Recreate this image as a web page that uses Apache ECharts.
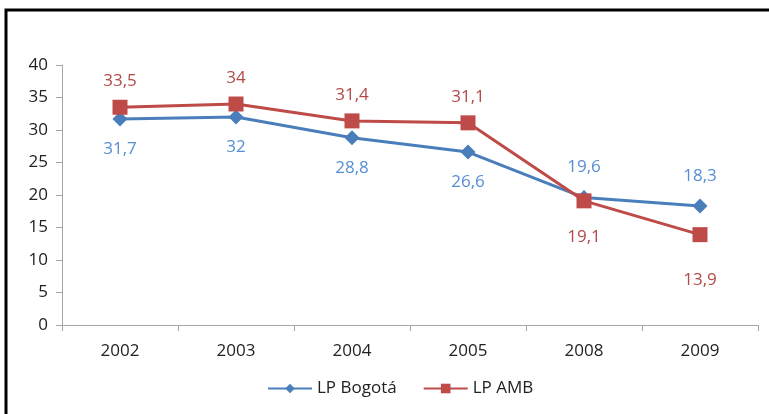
<!DOCTYPE html>
<html>
<head>
<meta charset="utf-8">
<script src="https://cdn.jsdelivr.net/npm/echarts@6/dist/echarts.min.js"></script>
<style>
  html, body { margin: 0; padding: 0; background: #fff; }
  #main { width: 769px; height: 414px; }
</style>
</head>
<body>
<div id="main"></div>
<script>
  // datos
  var years = ['2002', '2003', '2004', '2005', '2008', '2009'];
  var bogota = [31.7, 32, 28.8, 26.6, 19.6, 18.3];
  var amb = [33.5, 34, 31.4, 31.1, 19.1, 13.9];

  // posicion de las etiquetas
  var bogotaPos = ['bottom', 'bottom', 'bottom', 'bottom', 'top', 'top'];
  var ambPos = ['top', 'top', 'top', 'top', 'bottom', 'bottom'];
  var ambDist = [10, 10, 10, 10, 20, 30];

  function fmt(p) {
    return String(p.value).replace('.', ',');
  }

  var myChart = echarts.init(document.getElementById('main'));

  var font = '"Open Sans", sans-serif';

  var option = {
    animation: false,
    textStyle: { fontFamily: font },
    graphic: [{
      type: 'rect',
      shape: { x: 6, y: 10, width: 800, height: 500 },
      style: { fill: 'none', stroke: '#000', lineWidth: 3 },
      silent: true
    }],
    grid: { left: 62, right: 11, top: 65, bottom: 89 },
    legend: {
      bottom: 12,
      left: 262,
      itemWidth: 44,
      itemHeight: 12,
      itemGap: 26,
      textStyle: { fontSize: 17, color: '#222', fontFamily: font },
      data: ['LP Bogotá', 'LP AMB']
    },
    xAxis: {
      type: 'category',
      data: years,
      boundaryGap: true,
      axisLine: { lineStyle: { color: '#a6a6a6' } },
      axisTick: { show: true, length: 6, lineStyle: { color: '#a6a6a6' } },
      axisLabel: { fontSize: 17, color: '#222', margin: 18 }
    },
    yAxis: {
      type: 'value',
      min: 0,
      max: 40,
      interval: 5,
      splitLine: { show: false },
      axisLine: { show: true, lineStyle: { color: '#a6a6a6' } },
      axisTick: { show: true, length: 6, lineStyle: { color: '#a6a6a6' } },
      axisLabel: { fontSize: 17, color: '#222', margin: 14 }
    },
    series: [
      {
        name: 'LP Bogotá',
        type: 'line',
        symbol: 'diamond',
        symbolSize: 15,
        lineStyle: { width: 3, color: '#4a7ebb' },
        itemStyle: { color: '#4a7ebb' },
        data: bogota.map(function (v, i) {
          return { value: v, label: { position: bogotaPos[i], distance: 14 } };
        }),
        label: { show: true, formatter: fmt, fontSize: 17, color: '#558ed5' },
        z: 2
      },
      {
        name: 'LP AMB',
        type: 'line',
        symbol: 'rect',
        symbolSize: 15,
        lineStyle: { width: 3, color: '#be4b48' },
        itemStyle: { color: '#be4b48' },
        data: amb.map(function (v, i) {
          return { value: v, label: { position: ambPos[i], distance: ambDist[i] } };
        }),
        label: { show: true, formatter: fmt, fontSize: 17, color: '#b14a47' },
        z: 3
      }
    ]
  };

  myChart.setOption(option);
</script>
</body>
</html>
